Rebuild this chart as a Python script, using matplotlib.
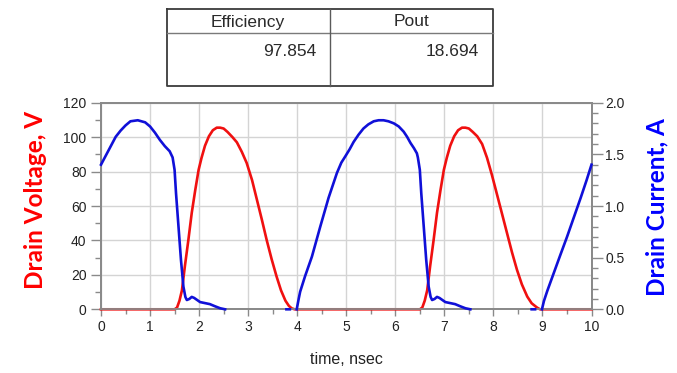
import numpy as np
import matplotlib
matplotlib.use("Agg")
import matplotlib.pyplot as plt
from matplotlib.ticker import MultipleLocator, FormatStrFormatter

# ── Data: drain voltage (V) and drain current (A) vs time (ns) ───────────────
t_v = [0.00, 1.50, 1.55, 1.60, 1.65, 1.71, 1.78, 1.85, 1.92, 1.99, 2.05, 2.12,
       2.20, 2.28, 2.36, 2.43, 2.50, 2.58, 2.68, 2.77, 2.87, 2.97, 3.08, 3.18,
       3.28, 3.38, 3.48, 3.58, 3.67, 3.76, 3.83, 3.89, 3.95,
       6.50, 6.55, 6.60, 6.65, 6.71, 6.78, 6.85, 6.92, 6.99, 7.05, 7.12,
       7.20, 7.28, 7.36, 7.43, 7.50, 7.58, 7.67, 7.77, 7.87, 7.97, 8.08, 8.18,
       8.28, 8.38, 8.48, 8.58, 8.69, 8.78, 8.89, 8.95, 10.00]
v_drain = [0, 0, 1, 5, 11, 25, 40, 56, 69, 81, 88, 95,
           100.5, 104, 105.5, 105.5, 105, 103, 100, 97, 91.5, 85, 75, 63.5,
           52, 40, 29, 19, 11, 5, 2, 0.5, 0,
           0, 1, 5, 11, 25, 40, 56, 69, 81, 88, 95,
           100.5, 104, 105.5, 105.5, 105, 103, 100.5, 96, 88, 78, 66, 55,
           44, 33, 23, 14.5, 7.4, 3.5, 1, 0, 0]

# NaN splits the current trace where it is not drawn
t_i = [0.00, 0.10, 0.20, 0.30, 0.40, 0.50, 0.60, 0.75, 0.90, 1.00, 1.10, 1.20,
       1.30, 1.40, 1.46, 1.50, 1.53, 1.58, 1.63, 1.68, 1.72, 1.75, 1.80, 1.85,
       1.90, 1.96, 2.02, 2.12, 2.22, 2.32, 2.43, 2.53, np.nan,
       3.78, 3.85, np.nan,
       3.99, 4.03, 4.06, 4.16, 4.30, 4.47, 4.64, 4.81, 4.90, 4.98, 5.07, 5.15,
       5.25, 5.35, 5.45, 5.56, 5.66, 5.76, 5.86, 5.97, 6.07, 6.17, 6.24, 6.31,
       6.38, 6.44, 6.46, 6.50, 6.53, 6.58, 6.63, 6.68, 6.72, 6.75, 6.80, 6.85,
       6.90, 6.96, 7.02, 7.12, 7.22, 7.32, 7.43, 7.53, np.nan,
       8.78, 8.85, np.nan,
       8.99, 9.03, 9.10, 9.23, 9.36, 9.50, 9.64, 9.78, 9.90, 10.00]
i_drain = [1.40, 1.49, 1.58, 1.67, 1.73, 1.78, 1.82, 1.83, 1.81, 1.77, 1.71, 1.64,
           1.58, 1.53, 1.47, 1.35, 1.12, 0.80, 0.48, 0.22, 0.12, 0.09, 0.10, 0.12,
           0.11, 0.09, 0.07, 0.06, 0.05, 0.03, 0.01, 0.0, np.nan,
           0.0, 0.0, np.nan,
           0.0, 0.10, 0.17, 0.32, 0.51, 0.80, 1.08, 1.32, 1.42, 1.48, 1.55, 1.62,
           1.69, 1.75, 1.79, 1.82, 1.83, 1.83, 1.82, 1.80, 1.77, 1.72, 1.67, 1.61,
           1.56, 1.51, 1.47, 1.35, 1.12, 0.80, 0.48, 0.22, 0.12, 0.09, 0.10, 0.12,
           0.11, 0.09, 0.07, 0.06, 0.05, 0.03, 0.01, 0.0, np.nan,
           0.0, 0.0, np.nan,
           0.0, 0.08, 0.18, 0.35, 0.52, 0.70, 0.89, 1.08, 1.25, 1.40]

table_headers = ["Efficiency", "Pout"]
table_values = ["97.854", "18.694"]

plt.rcParams["font.family"] = ["Liberation Sans", "DejaVu Sans"]

W, H = 677, 373
fig = plt.figure(figsize=(W / 100, H / 100), dpi=100)

# ── Main axes (voltage, left) ─────────────────────────────────────────────────
ax = fig.add_axes([101 / W, 1 - 309.3 / H, 490.5 / W, 206.6 / H])
ax.set_xlim(0, 10)
ax.set_ylim(0, 120)
ax.xaxis.set_major_locator(MultipleLocator(1))
ax.xaxis.set_minor_locator(MultipleLocator(0.5))
ax.yaxis.set_major_locator(MultipleLocator(20))
ax.yaxis.set_minor_locator(MultipleLocator(10))
ax.grid(True, which="major", color="#d4d4d4", lw=1.0)
ax.set_axisbelow(True)

spine_c = "#8a8a8a"
for s in ax.spines.values():
    s.set_color(spine_c)
    s.set_linewidth(1.3)
ax.tick_params(axis="y", which="major", direction="out", length=7.5, width=1.0,
               color=spine_c, labelsize=10, labelcolor="#222222", pad=3)
ax.tick_params(axis="y", which="minor", direction="out", length=4.5, width=1.0, color=spine_c)
ax.tick_params(axis="x", which="major", direction="out", length=5, width=1.0,
               color=spine_c, labelsize=10, labelcolor="#222222", pad=3)
ax.tick_params(axis="x", which="minor", direction="out", length=3.5, width=1.0, color=spine_c)

ax.plot(t_v, v_drain, color="#f01010", lw=1.9, clip_on=False, zorder=3)
ax.set_xlabel("time, nsec", fontsize=11.5, color="#222222", labelpad=13)

# ── Twin axes (current, right) ────────────────────────────────────────────────
ax2 = ax.twinx()
ax2.set_ylim(0, 2.0)
ax2.yaxis.set_major_locator(MultipleLocator(0.5))
ax2.yaxis.set_minor_locator(MultipleLocator(0.1))
ax2.yaxis.set_major_formatter(FormatStrFormatter("%.1f"))
for s in ax2.spines.values():
    s.set_color(spine_c)
    s.set_linewidth(1.3)
ax2.tick_params(axis="y", which="major", direction="out", length=8, width=1.0,
                color=spine_c, labelsize=10, labelcolor="#222222", pad=2)
ax2.tick_params(axis="y", which="minor", direction="out", length=4.5, width=1.0, color=spine_c)
ax2.plot(t_i, i_drain, color="#1010d8", lw=1.9, clip_on=False, zorder=3)

# axis titles
fig.text(36 / W, 1 - 200 / H, "Drain Voltage, V", rotation=90, ha="center", va="center",
         color="#ff0000", fontsize=17.5, fontweight="bold", family=["Lato", "DejaVu Sans"])
fig.text(657 / W, 1 - 207 / H, "Drain Current, A", rotation=90, ha="center", va="center",
         color="#0000ff", fontsize=17.5, fontweight="bold", family=["Lato", "DejaVu Sans"])

# ── Results table above the plot ──────────────────────────────────────────────
tab = fig.add_axes([0, 0, 1, 1])
tab.set_xlim(0, W)
tab.set_ylim(H, 0)
tab.axis("off")
tab.patch.set_alpha(0)
box_c = "#3c3c3c"
x0, x1, xm = 166.5, 493, 330
y0, y1, ym = 8.5, 86, 32.5
tab.plot([x0, x1, x1, x0, x0], [y0, y0, y1, y1, y0], color=box_c, lw=1.3)
tab.plot([x0, x1], [ym, ym], color="#7a7a7a", lw=1.0)
tab.plot([xm, xm], [y0, y1], color="#5a5a5a", lw=1.0)
for k, (hdr, val) in enumerate(zip(table_headers, table_values)):
    left = x0 if k == 0 else xm
    right = xm if k == 0 else x1
    tab.text((left + right) / 2, 26.5, hdr, ha="center", va="baseline",
             fontsize=12.5, color="#2a2a2a")
    tab.text(right - 14, 55.5, val, ha="right", va="baseline",
             fontsize=12.5, color="#2a2a2a")

fig.savefig("out.png", dpi=100)
